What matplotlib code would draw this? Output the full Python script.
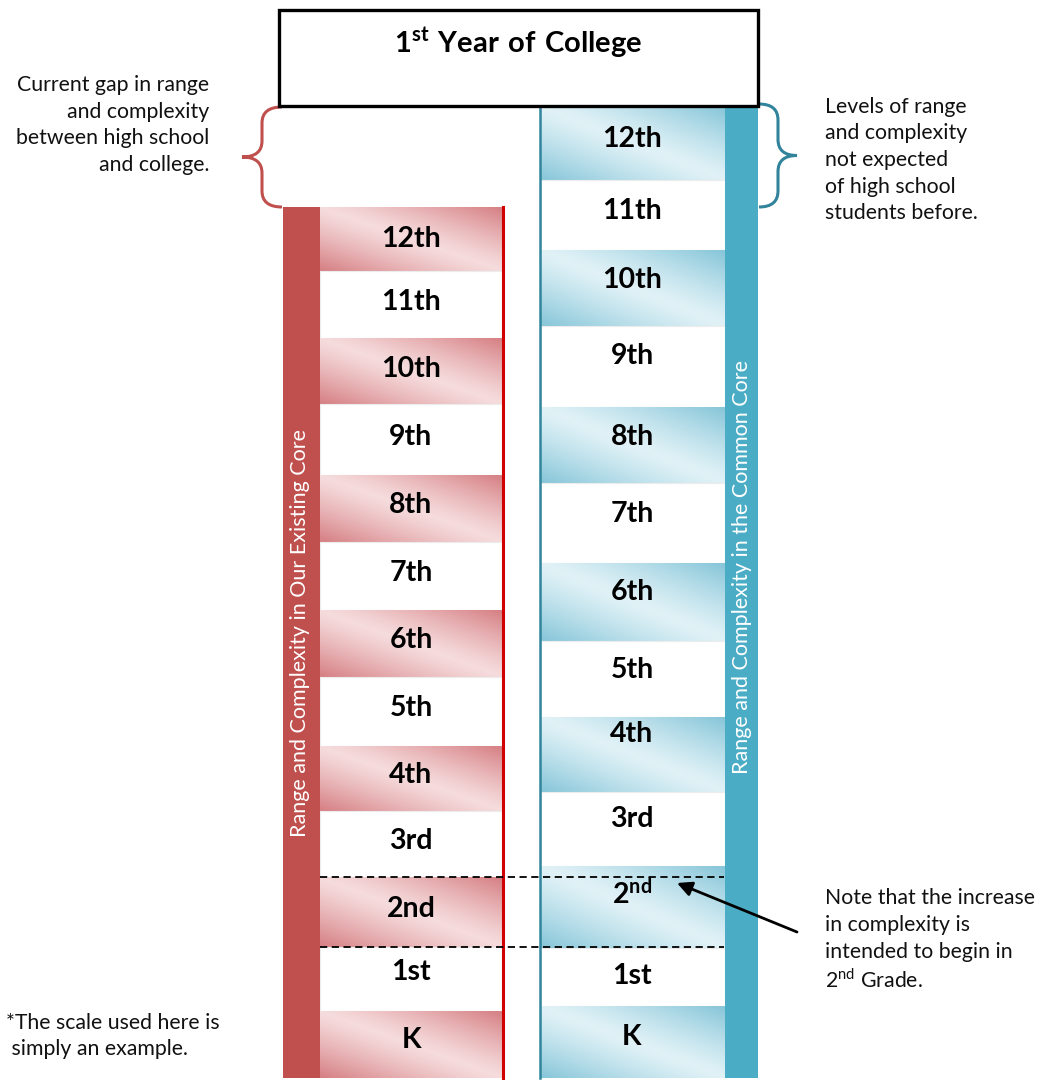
import numpy as np
import matplotlib
matplotlib.use('Agg')
import matplotlib.pyplot as plt
from matplotlib.patches import Rectangle, PathPatch
from matplotlib.path import Path

plt.rcParams['font.family'] = ['Lato', 'DejaVu Sans']
plt.rcParams['mathtext.fontset'] = 'custom'
plt.rcParams['mathtext.rm'] = 'Lato'
plt.rcParams['mathtext.bf'] = 'Lato:bold'

# grade levels, top to bottom
grades = ['12th', '11th', '10th', '9th', '8th', '7th', '6th', '5th', '4th', '3rd', '2nd', '1st', 'K']
# cell edges (pixels from top) for the existing core and the common core
left_edges = [207, 271, 338, 404, 475, 542, 610, 677, 746, 811, 877, 947, 1011, 1078]
right_edges = [106, 180, 250, 326, 407, 483, 563, 641, 717, 792, 866, 948, 1006, 1078]
left_label_y = [239, 302, 369, 437, 505, 573, 640, 708, 775, 841, 909, 972, 1040]
right_label_y = [139, 211, 280, 356, 437, 514, 592, 670, 734, 819, 893, 976, 1037]
right_labels = ['12th', '11th', '10th', '9th', '8th', '7th', '6th', '5th', '4th', '3rd',
                r'$\mathbf{2^{nd}}$', '1st', 'K']
shaded = [True, False] * 6 + [True]

W, H = 1037, 1080
fig = plt.figure(figsize=(W / 100, H / 100), dpi=100)
ax = fig.add_axes([0, 0, 1, 1])


def gradient(x0, x1, y0, y1, dark, light):
    u = np.linspace(0, 1, 120)[None, :]
    w = np.linspace(0, 1, 40)[:, None]
    t = np.clip(np.abs(u - w), 0, 1) ** 1.2
    dark = np.array(dark) / 255
    light = np.array(light) / 255
    img = light + (dark - light) * t[..., None]
    ax.imshow(img, extent=(x0, x1, y1, y0), origin='upper', aspect='auto',
              interpolation='bilinear', zorder=1)


def brace(x_end, y_top, y_bot, x_tip, color):
    y_mid = (y_top + y_bot) / 2
    x_mid = x_end + (x_tip - x_end) * 0.5
    r = 16
    verts = [(x_end, y_top), (x_mid, y_top), (x_mid, y_top + r),
             (x_mid, y_mid - r), (x_mid, y_mid), (x_tip, y_mid),
             (x_mid, y_mid), (x_mid, y_mid + r),
             (x_mid, y_bot - r), (x_mid, y_bot), (x_end, y_bot)]
    codes = [Path.MOVETO, Path.CURVE3, Path.CURVE3,
             Path.LINETO, Path.CURVE3, Path.CURVE3,
             Path.CURVE3, Path.CURVE3,
             Path.LINETO, Path.CURVE3, Path.CURVE3]
    ax.add_patch(PathPatch(Path(verts, codes), fill=False, edgecolor=color, lw=2.2, zorder=3))


red_dark, red_light = (214, 128, 132), (246, 220, 221)
blue_dark, blue_light = (135, 198, 217), (225, 242, 247)

# existing core column
ax.add_patch(Rectangle((283, left_edges[0]), 37, left_edges[-1] - left_edges[0],
                       facecolor='#c0504d', edgecolor='none', zorder=2))
for i, g in enumerate(grades):
    y0, y1 = left_edges[i], left_edges[i + 1]
    if shaded[i]:
        gradient(320, 502, y0, y1, red_dark, red_light)
    else:
        ax.add_patch(Rectangle((320, y0), 182, y1 - y0, facecolor='white',
                               edgecolor='#ececec', lw=0.8, zorder=1))
    ax.text(411, left_label_y[i], g, ha='center', va='center', fontsize=20.5,
            fontweight='bold', zorder=5)
ax.plot([503, 503], [left_edges[0], left_edges[-1]], color='#d00000', lw=2.2, zorder=4)
ax.text(300, 633, 'Range and Complexity in Our Existing Core',
        rotation=90, ha='center', va='center', color='white', fontsize=15.5, zorder=5)

# common core column
ax.add_patch(Rectangle((725, right_edges[0]), 33, right_edges[-1] - right_edges[0],
                       facecolor='#4bacc6', edgecolor='none', zorder=2))
for i, g in enumerate(right_labels):
    y0, y1 = right_edges[i], right_edges[i + 1]
    if shaded[i]:
        gradient(541, 725, y0, y1, blue_dark, blue_light)
    else:
        ax.add_patch(Rectangle((541, y0), 184, y1 - y0, facecolor='white',
                               edgecolor='#ececec', lw=0.8, zorder=1))
    ax.text(632, right_label_y[i], g, ha='center', va='center', fontsize=20.5,
            fontweight='bold', zorder=5)
ax.plot([539.5, 539.5], [right_edges[0], right_edges[-1]], color='#31859c', lw=1.8, zorder=4)
ax.text(742, 567, 'Range and Complexity in the Common Core',
        rotation=90, ha='center', va='center', color='white', fontsize=15.5, zorder=5)

# title box
ax.add_patch(Rectangle((279, 10), 479, 96, facecolor='white', edgecolor='black', lw=2.4, zorder=4))
ax.text(518, 43, r'$\mathbf{1^{st}\ Year\ of\ College}$', ha='center', va='center',
        fontsize=21, zorder=5)

# dashed lines around 2nd grade
for yy in [877, 947]:
    ax.plot([320, 724], [yy, yy], color='black', lw=1.3, ls=(0, (4, 2.5)), zorder=6)

# braces
brace(282, 107, 207, 242, '#c0504d')
brace(759, 104, 207, 797, '#31849b')

# annotations
note_kw = dict(fontsize=15.3, linespacing=1.42, color='#111111')
ax.text(209, 125, 'Current gap in range\nand complexity\nbetween high school\nand college.',
        ha='right', va='center', **note_kw)
ax.text(825, 160, 'Levels of range\nand complexity\nnot expected\nof high school\nstudents before.',
        ha='left', va='center', **note_kw)
ax.text(825, 925, 'Note that the increase\nin complexity is\nintended to begin in',
        ha='left', va='center', **note_kw)
ax.text(825, 980, r'2$^{\rm nd}$ Grade.', ha='left', va='center', **note_kw)
ax.text(6, 1036, '*The scale used here is\n simply an example.',
        ha='left', va='center', **note_kw)

ax.annotate('', xy=(677, 883), xytext=(797, 932),
            arrowprops=dict(arrowstyle='-|>', color='black', lw=2,
                            mutation_scale=22, shrinkA=0, shrinkB=0), zorder=7)

ax.set_xlim(0, W)
ax.set_ylim(H, 0)
ax.axis('off')
fig.savefig('out.png', dpi=100, facecolor='white')
